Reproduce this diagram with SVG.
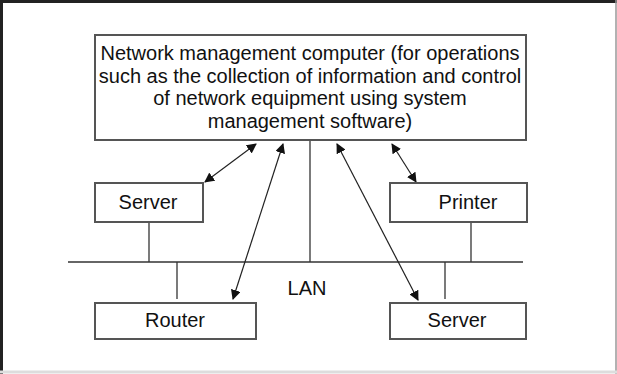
<svg xmlns="http://www.w3.org/2000/svg" width="617" height="374" viewBox="0 0 617 374">
<style>
.box{fill:#fff;stroke:#555;stroke-width:2}
.ln{stroke:#333;stroke-width:1.3;fill:none}
.ar{stroke:#222;stroke-width:1.2;fill:none;marker-start:url(#ah);marker-end:url(#ah)}
text{font-family:"Liberation Sans",Arial,sans-serif;font-size:20px;fill:#111;text-anchor:middle}
</style>
<defs>
<marker id="ah" viewBox="0 0 10 10" refX="9" refY="5" markerWidth="10" markerHeight="10" markerUnits="userSpaceOnUse" orient="auto-start-reverse">
<path d="M0,0 L10,5 L0,10 Z" fill="#111"/>
</marker>
</defs>
<rect x="0" y="0" width="617" height="374" fill="#fff"/>
<g id="frame">
<line x1="0" y1="1.5" x2="617" y2="1.5" stroke="#222" stroke-width="3"/>
<line x1="1.5" y1="0" x2="1.5" y2="374" stroke="#222" stroke-width="3"/>
<line x1="616" y1="0" x2="616" y2="374" stroke="#999" stroke-width="1.5"/>
<line x1="0" y1="372" x2="617" y2="372" stroke="#ddd" stroke-width="3"/>
</g>
<g id="connectors">
<line class="ln" x1="68" y1="262" x2="523" y2="262"/>
<line class="ln" x1="310" y1="140" x2="310" y2="262"/>
<line class="ln" x1="149" y1="222" x2="149" y2="262"/>
<line class="ln" x1="471" y1="222" x2="471" y2="262"/>
<line class="ln" x1="177" y1="262" x2="177" y2="299"/>
<line class="ln" x1="445" y1="262" x2="445" y2="299"/>
<line class="ar" x1="256" y1="144" x2="205" y2="182"/>
<line class="ar" x1="283" y1="144" x2="233" y2="299"/>
<line class="ar" x1="337" y1="144" x2="418" y2="300"/>
<line class="ar" x1="392" y1="144" x2="416" y2="182"/>
</g>
<g id="nmc">
<rect class="box" x="95" y="35" width="431" height="105"/>
<text x="310" y="60">Network management computer (for operations</text>
<text x="310" y="83">such as the collection of information and control</text>
<text x="310" y="105">of network equipment using system</text>
<text x="310" y="128">management software)</text>
</g>
<g id="server1">
<rect class="box" x="95" y="183" width="108" height="39"/>
<text x="148" y="209">Server</text>
</g>
<g id="printer">
<rect class="box" x="390" y="183" width="137" height="39"/>
<text x="468" y="209">Printer</text>
</g>
<g id="lan">
<text x="307" y="295">LAN</text>
</g>
<g id="router">
<rect class="box" x="95" y="303" width="161" height="36"/>
<text x="175" y="327">Router</text>
</g>
<g id="server2">
<rect class="box" x="390" y="303" width="136" height="36"/>
<text x="457" y="327">Server</text>
</g>
</svg>
